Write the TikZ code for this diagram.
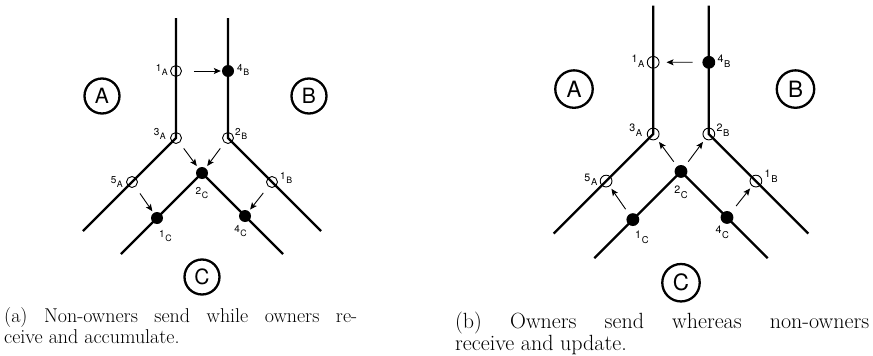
\documentclass[tikz,border=0pt]{standalone}
\usepackage{fontspec}
\newfontfamily\hv{TeX Gyre Heros}
\usetikzlibrary{arrows.meta}
\newcommand\lbl[2]{{\hv\fontsize{10}{12}\selectfont #1}\kern0.6pt\raisebox{-4.5pt}{\hv\fontsize{8.8}{10}\selectfont #2}}
\newcommand\treepanel[1]{%
  \coordinate (#1tl) at (-26,-120);
  \coordinate (#1tr) at (26,-120);
  \coordinate (#1ol) at (-119,93);
  \coordinate (#1or) at (119,93);
  \coordinate (#1il) at (-81,116);
  \coordinate (#1ir) at (81,116);
  \coordinate (#1apex) at (0,35);
  \coordinate (#1jl) at (-26,0);
  \coordinate (#1jr) at (26,0);
  \draw[branch] (#1tl) -- (#1jl) -- (#1ol);
  \draw[branch] (#1tr) -- (#1jr) -- (#1or);
  \draw[branch] (#1il) -- (#1apex) -- (#1ir);
  \node[region] (#1regA) at (-100,-42) {A};
  \node[region] (#1regB) at (107,-42) {B};
  \node[region] (#1regC) at (0,139) {C};
}
\begin{document}
\begin{tikzpicture}[x=1pt,y=-1pt,
  branch/.style={line width=2.3pt},
  opennode/.style={circle, draw, line width=0.9pt, minimum size=11pt, inner sep=0pt},
  fillnode/.style={circle, fill, minimum size=12pt, inner sep=0pt},
  region/.style={circle, draw, line width=2.3pt, minimum size=35pt, inner sep=0pt, font=\hv\fontsize{21}{21}\selectfont},
  lab/.style={inner sep=0pt},
  msg/.style={line width=0.9pt, -{Stealth[length=7pt,width=6pt,inset=1.5pt]}},
  captext/.style={inner sep=0pt, font=\fontsize{20}{22}\selectfont},
  captextb/.style={inner sep=0pt, font=\fontsize{22}{24}\selectfont}
]
\useasboundingbox (0,0) rectangle (873,356);

% ---------------- panel (a)
\begin{scope}[shift={(202,138)}]
  \treepanel{a}
  \node[opennode] (a1A) at (-26,-67) {};
  \node[fillnode] (a4B) at (26,-67) {};
  \node[opennode] (a3A) at (-26,0) {};
  \node[opennode] (a2B) at (26,0) {};
  \node[opennode] (a5A) at (-70,44) {};
  \node[opennode] (a1B) at (70,44) {};
  \node[fillnode] (a2C) at (0,35) {};
  \node[fillnode] (a1C) at (-45,80) {};
  \node[fillnode] (a4C) at (43,78) {};
  \node[lab, anchor=base east] (la1A) at (-34,-67) {\lbl{1}{A}};
  \node[lab, anchor=base west] (la4B) at (35,-67) {\lbl{4}{B}};
  \node[lab, anchor=base east] (la3A) at (-36,-3) {\lbl{3}{A}};
  \node[lab, anchor=base west] (la2B) at (33,-3) {\lbl{2}{B}};
  \node[lab, anchor=base east] (la5A) at (-79,45) {\lbl{5}{A}};
  \node[lab, anchor=base west] (la1B) at (78,41) {\lbl{1}{B}};
  \node[lab, anchor=base] (la2C) at (0,56) {\lbl{2}{C}};
  \node[lab, anchor=base west] (la1C) at (-43,99) {\lbl{1}{C}};
  \node[lab, anchor=base east] (la4C) at (45,94) {\lbl{4}{C}};
  \draw[msg, shorten <=12pt, shorten >=1pt] (a1A) -- (a4B);
  \draw[msg, shorten <=7pt, shorten >=2.5pt] (a3A) -- (a2C);
  \draw[msg, shorten <=7pt, shorten >=2.5pt] (a2B) -- (a2C);
  \draw[msg, shorten <=8pt, shorten >=2pt] (a5A) -- (a1C);
  \draw[msg, shorten <=8pt, shorten >=2pt] (a1B) -- (a4C);
\end{scope}

% ---------------- panel (b)
\begin{scope}[shift={(681,134)}, scale=1.07, transform shape]
  \treepanel{b}
  \node[opennode] (b1A) at (-26,-67) {};
  \node[fillnode] (b4B) at (26,-67) {};
  \node[opennode] (b3A) at (-26,0) {};
  \node[opennode] (b2B) at (26,0) {};
  \node[opennode] (b5A) at (-70,44) {};
  \node[opennode] (b1B) at (70,44) {};
  \node[fillnode] (b2C) at (0,35) {};
  \node[fillnode] (b1C) at (-45,80) {};
  \node[fillnode] (b4C) at (43,78) {};
  \node[lab, anchor=base east] (lb1A) at (-34,-67) {\lbl{1}{A}};
  \node[lab, anchor=base west] (lb4B) at (34,-67) {\lbl{4}{B}};
  \node[lab, anchor=base east] (lb3A) at (-36,-2) {\lbl{3}{A}};
  \node[lab, anchor=base west] (lb2B) at (33,-2) {\lbl{2}{B}};
  \node[lab, anchor=base east] (lb5A) at (-78,44) {\lbl{5}{A}};
  \node[lab, anchor=base west] (lb1B) at (78,41) {\lbl{1}{B}};
  \node[lab, anchor=base] (lb2C) at (0,56) {\lbl{2}{C}};
  \node[lab, anchor=base west] (lb1C) at (-43,98) {\lbl{1}{C}};
  \node[lab, anchor=base east] (lb4C) at (45,93) {\lbl{4}{C}};
  \draw[msg, shorten <=9.5pt, shorten >=7pt] (b4B) -- (b1A);
  \draw[msg, shorten <=5.5pt, shorten >=3.5pt] (b2C) -- (b3A);
  \draw[msg, shorten <=5.5pt, shorten >=3.5pt] (b2C) -- (b2B);
  \draw[msg, shorten <=6pt, shorten >=3pt] (b1C) -- (b5A);
  \draw[msg, shorten <=8pt, shorten >=3pt] (b4C) -- (b1B);
\end{scope}

% ---------------- captions
\node[captext, anchor=base west] (capa1) at (4,322) {\makebox[353pt][s]{(a) Non-owners send while owners re-}};
\node[captext, anchor=base west] (capa2) at (4,343) {ceive and accumulate.};
\node[captextb, anchor=base west] (capb1) at (455,328) {\makebox[414pt][s]{(b) Owners send whereas non-owners}};
\node[captextb, anchor=base west] (capb2) at (455,350) {receive and update.};
\end{tikzpicture}
\end{document}
